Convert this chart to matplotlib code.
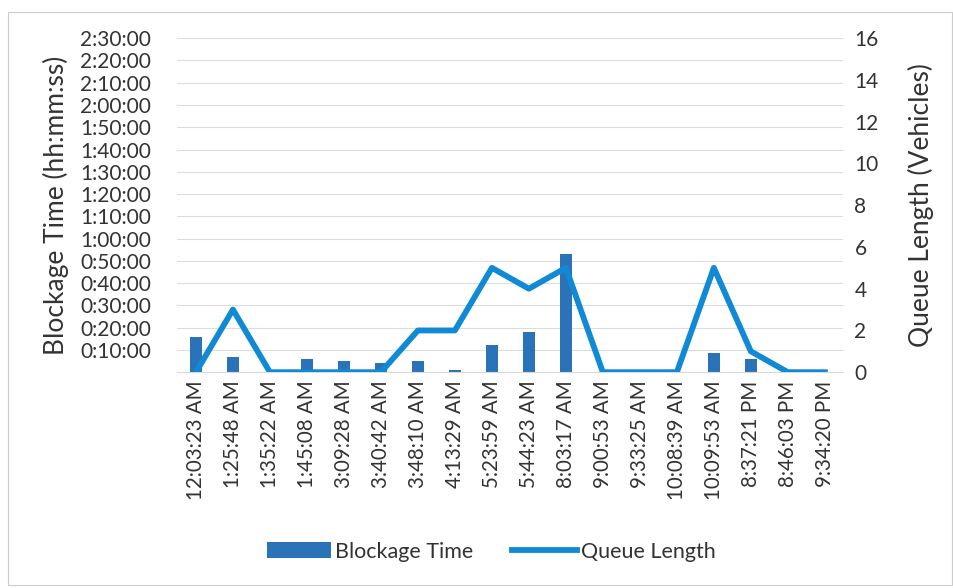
import matplotlib.pyplot as plt
from matplotlib.patches import Rectangle

plt.rcParams['font.family'] = ['Lato', 'DejaVu Sans']

times = ['12:03:23 AM', '1:25:48 AM', '1:35:22 AM', '1:45:08 AM', '3:09:28 AM',
         '3:40:42 AM', '3:48:10 AM', '4:13:29 AM', '5:23:59 AM', '5:44:23 AM',
         '8:03:17 AM', '9:00:53 AM', '9:33:25 AM', '10:08:39 AM', '10:09:53 AM',
         '8:37:21 PM', '8:46:03 PM', '9:34:20 PM']
# blockage time in minutes
blockage_min = [16, 7, 0, 6, 5, 4, 5, 1, 12, 18, 53, 0, 1, 0, 8.5, 6, 0, 0]
queue_len = [0, 3, 0, 0, 0, 0, 2, 2, 5, 4, 5, 0, 0, 0, 5, 1, 0, 0]

bar_color = '#2B73B8'
line_color = '#118AD6'
txt = '#333333'

fig = plt.figure(figsize=(9.54, 5.88), dpi=100)
ax = fig.add_axes([0.186, 0.367, 0.698, 0.568])
ax2 = ax.twinx()

x = list(range(len(times)))
ax.bar(x, blockage_min, width=0.33, color=bar_color, label='Blockage Time', zorder=2)
ax2.plot(x, queue_len, color=line_color, linewidth=4.2, label='Queue Length', zorder=3)

ax.set_xlim(-0.5, len(times) - 0.5)
ax.set_ylim(0, 150)
ax2.set_ylim(0, 16)

yt = list(range(10, 151, 10))
ax.set_yticks(yt)
ax.set_yticklabels(['%d:%02d:00' % (m // 60, m % 60) for m in yt], fontsize=15, color=txt)
ax2.set_yticks(range(0, 17, 2))
ax2.set_yticklabels([str(v) for v in range(0, 17, 2)], fontsize=15, color=txt)
ax.set_xticks(x)
ax.set_xticklabels(times, rotation=90, fontsize=14.8, color=txt)

ax.grid(axis='y', color='#DDDDDD', linewidth=0.8, zorder=0)
ax.set_axisbelow(True)
for a in (ax, ax2):
    for s in a.spines.values():
        s.set_visible(False)
ax.tick_params(axis='y', length=0, pad=19)
ax.tick_params(axis='x', length=0, pad=6)
ax2.tick_params(axis='y', length=0, pad=8)
ax.spines['bottom'].set_visible(True)
ax.spines['bottom'].set_color('#D9D9D9')

ax.set_ylabel('Blockage Time (hh:mm:ss)', fontsize=19, color=txt, labelpad=8)
ax2.set_ylabel('Queue Length (Vehicles)', fontsize=19, color=txt, labelpad=21)

h1, l1 = ax.get_legend_handles_labels()
h2, l2 = ax2.get_legend_handles_labels()
fig.legend(h1 + h2, l1 + l2, loc='center', bbox_to_anchor=(0.515, 0.062), ncol=2,
           frameon=False, fontsize=15.5, handlelength=3.0, handletextpad=0.2, columnspacing=1.8,
           labelcolor=txt)

fig.patches.append(Rectangle((0.008, 0.005), 0.99, 0.975, transform=fig.transFigure,
                             fill=False, edgecolor='#CCCCCC', linewidth=0.8))

fig.savefig('out.png', dpi=100)
